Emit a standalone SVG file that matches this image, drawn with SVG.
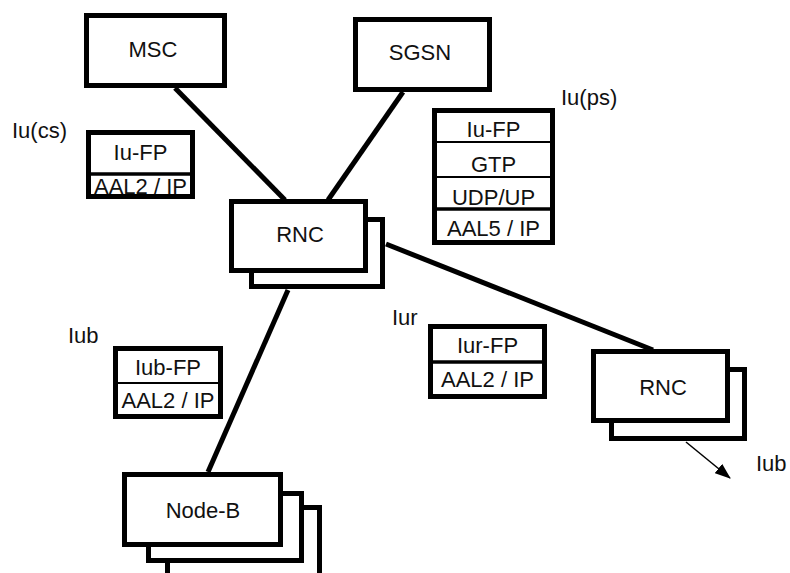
<svg xmlns="http://www.w3.org/2000/svg" width="790" height="573" viewBox="0 0 790 573">
<style>
  .box { fill: #fff; stroke: #000; stroke-width: 5; }
  .stk { fill: #fff; stroke: #000; stroke-width: 5; }
  .div { stroke: #000; stroke-width: 2; }
  .div3 { stroke: #000; stroke-width: 3.5; }
  .link { stroke: #000; stroke-width: 5; fill: none; }
  .txt { font-family: "Liberation Sans", Arial, sans-serif; font-size: 22px; fill: #111; text-anchor: middle; }
  .lbl { font-family: "Liberation Sans", Arial, sans-serif; font-size: 22px; fill: #111; }
</style>
<defs>
  <marker id="arrow" markerUnits="userSpaceOnUse" markerWidth="16" markerHeight="12" refX="15" refY="6" orient="auto">
    <path d="M0,0 L16,6 L0,12 Z" fill="#000"/>
  </marker>
</defs>
<rect width="790" height="573" fill="#fff"/>

<g id="connectors">
  <line class="link" x1="175" y1="88" x2="285" y2="200"/>
  <line class="link" x1="403" y1="92" x2="328" y2="200"/>
  <line class="link" x1="288" y1="290" x2="208" y2="472"/>
  <line class="link" x1="386" y1="244" x2="653" y2="350"/>
  <line x1="686" y1="442" x2="730" y2="478" stroke="#000" stroke-width="1.5" marker-end="url(#arrow)"/>
</g>

<g id="msc">
  <rect class="box" x="86.5" y="15.5" width="138" height="70"/>
  <text class="txt" x="153" y="57">MSC</text>
</g>

<g id="sgsn">
  <rect class="box" x="355.5" y="19.5" width="134" height="70"/>
  <text class="txt" x="420" y="60">SGSN</text>
</g>

<g id="rnc1">
  <rect class="box" x="251.5" y="219.5" width="131" height="67"/>
  <rect class="box" x="231.5" y="201.5" width="134" height="69"/>
  <text class="txt" x="300" y="242">RNC</text>
</g>

<g id="rnc2">
  <rect class="box" x="611.5" y="369.5" width="133" height="69"/>
  <rect class="box" x="593.5" y="351.5" width="134" height="69"/>
  <text class="txt" x="663" y="395">RNC</text>
</g>

<g id="nodeb">
  <rect class="box" x="167.5" y="507.5" width="152" height="70"/>
  <rect class="box" x="148.5" y="493.5" width="153" height="67"/>
  <rect class="box" x="124.5" y="474.5" width="156" height="70"/>
  <text class="txt" x="203" y="518">Node-B</text>
</g>

<g id="iucs-stack">
  <text class="lbl" x="12" y="138">Iu(cs)</text>
  <rect class="stk" x="88.5" y="132.5" width="104" height="64"/>
  <line class="div3" x1="88" y1="174" x2="193" y2="174"/>
  <text class="txt" x="140.5" y="160">Iu-FP</text>
  <text class="txt" x="140.5" y="194">AAL2 / IP</text>
</g>

<g id="iups-stack">
  <text class="lbl" x="561" y="105">Iu(ps)</text>
  <rect class="stk" x="434.5" y="110.5" width="118" height="132"/>
  <line class="div" x1="434" y1="142" x2="553" y2="142"/>
  <line class="div" x1="434" y1="177" x2="553" y2="177"/>
  <line class="div3" x1="434" y1="209" x2="553" y2="209"/>
  <text class="txt" x="493.5" y="137">Iu-FP</text>
  <text class="txt" x="493.5" y="172">GTP</text>
  <text class="txt" x="493.5" y="205">UDP/UP</text>
  <text class="txt" x="493.5" y="236">AAL5 / IP</text>
</g>

<g id="iub-stack">
  <text class="lbl" x="68" y="343">Iub</text>
  <rect class="stk" x="115.5" y="348.5" width="105" height="68"/>
  <line class="div" x1="115" y1="383" x2="221" y2="383"/>
  <text class="txt" x="168" y="375">Iub-FP</text>
  <text class="txt" x="168" y="408">AAL2 / IP</text>
</g>

<g id="iur-stack">
  <text class="lbl" x="392" y="325">Iur</text>
  <rect class="stk" x="430.5" y="326.5" width="114" height="70"/>
  <line class="div3" x1="430" y1="362" x2="545" y2="362"/>
  <text class="txt" x="487.5" y="353">Iur-FP</text>
  <text class="txt" x="487.5" y="387">AAL2 / IP</text>
</g>

<g id="iub-label2">
  <text class="lbl" x="756" y="471">Iub</text>
</g>
</svg>
